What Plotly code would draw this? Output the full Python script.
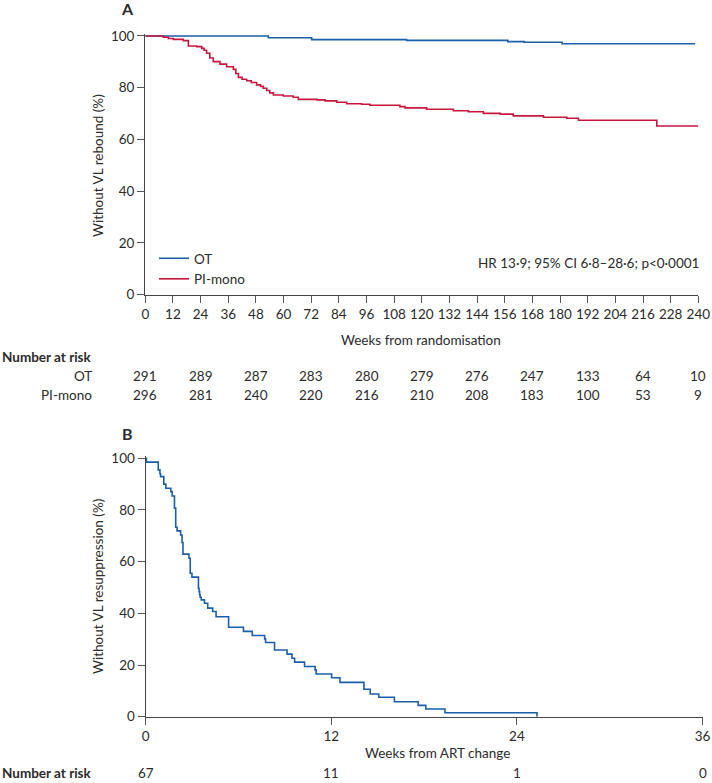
import plotly.graph_objects as go

W, H = 712, 783

# panel A - time to VL rebound
weeks_ot = [0, 53.4, 72.2, 113.4, 157.3, 164.4, 180.9, 238.6]
surv_ot = [100, 99.3, 98.6, 98.3, 97.8, 97.6, 97.0, 97.0]

weeks_pi = [0, 7.8, 10, 12.2, 16.5, 18.7, 22.3, 24.5, 25.5, 26.6, 28, 29.5, 32.4, 35.3,
            38.2, 39.3, 40.4, 42, 44, 46, 48.3, 50, 51.2, 52.7, 54, 55.6, 59.9, 64.2,
            66.4, 74.4, 78, 83.1, 87.4, 93.9, 97.5, 110.5, 112.7, 122.1, 133.7, 140.2,
            146.7, 154, 159.7, 172.8, 182.9, 188, 222, 240]
surv_pi = [100, 99.5, 99.0, 98.7, 98.2, 96.1, 95.9, 95.2, 94.5, 93.3, 91.5, 90.1, 89.1, 88.1,
           87.1, 85.5, 84.0, 83.3, 82.7, 82.0, 81.1, 80.5, 79.8, 78.9, 78.0, 77.2, 76.8, 76.3,
           75.5, 75.3, 74.9, 74.4, 73.8, 73.6, 73.2, 72.7, 72.2, 71.7, 71.1, 70.7,
           70.1, 69.8, 69.1, 68.6, 68.2, 67.4, 65.2, 65.2]

risk_weeks_a = [0, 24, 48, 72, 96, 120, 144, 168, 192, 216, 240]
risk_ot = [291, 289, 287, 283, 280, 279, 276, 247, 133, 64, 10]
risk_pi = [296, 281, 240, 220, 216, 210, 208, 183, 100, 53, 9]

# panel B - time to VL resuppression
weeks_b = [0, 0.05, 0.81, 0.92, 0.96, 1.17, 1.30, 1.62, 1.71, 1.86, 1.94, 2.03, 2.26, 2.35,
           2.41, 2.80, 2.88, 2.99, 3.41, 3.45, 3.49, 3.52, 3.59, 3.80, 4.01, 4.33, 4.55,
           5.36, 6.32, 6.89, 7.69, 7.75, 8.33, 9.14, 9.46, 9.63, 10.27, 10.95, 11.02,
           12.02, 12.56, 14.11, 14.52, 15.07, 16.08, 17.62, 18.11, 19.35, 25.3]
surv_b = [100, 98.5, 95.5, 94.0, 92.9, 90.0, 88.4, 87.1, 85.4, 80.7, 73.3, 71.9, 70.3, 67.4,
          62.9, 61.3, 55.5, 54.0, 49.7, 48.4, 47.1, 46.2, 45.2, 43.9, 42.0, 40.7, 38.7,
          34.6, 33.0, 31.4, 30.1, 28.7, 25.8, 24.2, 22.6, 21.1, 19.4, 18.1, 16.5,
          15.1, 13.3, 10.6, 8.8, 7.5, 5.8, 4.4, 3.0, 1.5, 0]

risk_weeks_b = [0, 12, 24, 36]
risk_b = [67, 11, 1, 0]

BLUE = "#1b5eab"
RED = "#c8173f"
FONT = "Lato"
TXT = "#2b2b2b"

fig = go.Figure()
fig.add_scatter(x=weeks_ot, y=surv_ot, name="OT", mode="lines", line_shape="hv",
                line=dict(color=BLUE, width=1.6))
fig.add_scatter(x=weeks_pi, y=surv_pi, name="PI-mono", mode="lines", line_shape="hv",
                line=dict(color=RED, width=1.6))
fig.add_scatter(x=weeks_b, y=surv_b, mode="lines", line_shape="hv", showlegend=False,
                line=dict(color=BLUE, width=1.6), xaxis="x2", yaxis="y2")


def py(px):
    return 1 - px / H


ax = dict(showline=True, linecolor="#444", linewidth=1.3, ticks="outside", ticklen=7,
          tickcolor="#555", tickwidth=1.2, showgrid=False, zeroline=False, automargin=False,
          ticklabeloverflow="allow", tickfont=dict(family=FONT, size=13.5, color=TXT))

fig.update_layout(
    width=W, height=H,
    margin=dict(l=0, r=0, t=0, b=0),
    plot_bgcolor="white", paper_bgcolor="white",
    font=dict(family=FONT, size=13, color=TXT),
    xaxis=dict(ax, domain=[145.3 / W, 698.3 / W], range=[0, 240], tickvals=list(range(0, 241, 12)),
               anchor="y"),
    yaxis=dict(ax, domain=[py(294.7), py(33.9)], range=[0, 100.8], tickvals=[0, 20, 40, 60, 80, 100],
               anchor="x"),
    xaxis2=dict(ax, domain=[145.7 / W, 702.5 / W], range=[0, 36], tickvals=[0, 12, 24, 36],
                anchor="y2"),
    yaxis2=dict(ax, domain=[py(716.7), py(456.2)], range=[0, 100.8], tickvals=[0, 20, 40, 60, 80, 100],
                anchor="x2"),
    legend=dict(x=154 / W, y=py(243), xanchor="left", yanchor="top", itemwidth=30,
                bgcolor="rgba(0,0,0,0)", font=dict(family=FONT, size=13.5, color=TXT),
                tracegroupgap=0),
)

ann = []


def add(text, x, y, xref="paper", xanchor="center", size=13.5, bold=False, angle=0):
    ann.append(dict(text=f"<b>{text}</b>" if bold else text, x=x, y=py(y), xref=xref, yref="paper",
                    xanchor=xanchor, yanchor="middle", showarrow=False, textangle=angle,
                    font=dict(family=FONT, size=size, color=TXT)))


add("A", 127 / W, 9, size=16, bold=True)
add("B", 127 / W, 433, size=16, bold=True)
add("Without VL rebound (%)", 98 / W, 166, angle=-90)
add("Without VL resuppression (%)", 98 / W, 587, angle=-90)
add("Weeks from randomisation", 421 / W, 340)
add("Weeks from ART change", 437 / W, 753)
add("HR 13·9; 95% CI 6·8–28·6; p&lt;0·0001", 701 / W, 263, xanchor="right")

add("Number at risk", 0, 357, xanchor="left", bold=True)
add("OT", 94 / W, 376, xanchor="right")
add("PI-mono", 94 / W, 395, xanchor="right")
for wk, a, b in zip(risk_weeks_a, risk_ot, risk_pi):
    add(str(a), wk, 376, xref="x")
    add(str(b), wk, 395, xref="x")

add("Number at risk", 0, 773, xanchor="left", bold=True)
for wk, n in zip(risk_weeks_b, risk_b):
    add(str(n), wk, 773, xref="x2")

fig.update_layout(annotations=ann)
fig.write_html("out.html", config={"displayModeBar": False},
               post_script="document.body.style.margin='0';")
